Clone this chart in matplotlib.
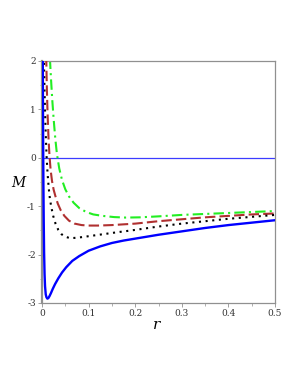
import matplotlib
matplotlib.use("Agg")
import matplotlib.pyplot as plt
from matplotlib.ticker import MultipleLocator

# Blue solid curve
r_blue = [0.0016, 0.0020, 0.0025, 0.0030, 0.0037, 0.0045, 0.0055, 0.0065, 0.0080, 0.0095,
          0.0115, 0.0135, 0.016, 0.019, 0.023, 0.028, 0.035, 0.043, 0.052, 0.065,
          0.080, 0.100, 0.125, 0.150, 0.175, 0.200, 0.250, 0.300, 0.350, 0.400, 0.450, 0.500]
M_blue = [2.2, 1.2, 0.3, -0.5, -1.3, -1.95, -2.4, -2.65, -2.82, -2.88,
          -2.91, -2.90, -2.86, -2.80, -2.71, -2.61, -2.49, -2.37, -2.26, -2.13,
          -2.03, -1.92, -1.83, -1.76, -1.71, -1.67, -1.59, -1.52, -1.45, -1.39, -1.34, -1.29]

# Black dotted curve
r_black = [0.0040, 0.0055, 0.0070, 0.0085, 0.0100, 0.0120, 0.0145, 0.0170, 0.0200, 0.0240,
           0.0290, 0.0350, 0.0420, 0.0500, 0.0600, 0.0700, 0.0850, 0.100, 0.130, 0.160,
           0.200, 0.250, 0.300, 0.350, 0.400, 0.450, 0.500]
M_black = [2.1, 1.35, 0.8, 0.35, 0.0, -0.33, -0.63, -0.85, -1.02, -1.20,
           -1.36, -1.49, -1.58, -1.63, -1.66, -1.655, -1.64, -1.62, -1.58, -1.54,
           -1.49, -1.42, -1.36, -1.31, -1.26, -1.22, -1.18]

# Red dashed curve
r_red = [0.0090, 0.0105, 0.0120, 0.0140, 0.0160, 0.0185, 0.0215, 0.0250, 0.0290, 0.0340,
         0.0400, 0.0480, 0.0580, 0.0700, 0.0850, 0.100, 0.120, 0.150, 0.200, 0.250,
         0.300, 0.350, 0.400, 0.450, 0.500]
M_red = [2.1, 1.4, 0.9, 0.4, 0.05, -0.25, -0.48, -0.66, -0.80, -0.95,
         -1.08, -1.20, -1.30, -1.36, -1.39, -1.40, -1.40, -1.39, -1.36, -1.31,
         -1.27, -1.23, -1.20, -1.17, -1.15]

# Green dash-dot curve
r_green = [0.0170, 0.0195, 0.0220, 0.0250, 0.0285, 0.0320, 0.0370, 0.0430, 0.0500, 0.0580,
           0.0680, 0.0800, 0.0950, 0.1100, 0.1300, 0.1550, 0.1800, 0.2100, 0.2500, 0.3000,
           0.3500, 0.4000, 0.4500, 0.5000]
M_green = [2.05, 1.6, 1.2, 0.8, 0.4, 0.08, -0.22, -0.46, -0.65, -0.80,
           -0.93, -1.04, -1.12, -1.17, -1.20, -1.225, -1.235, -1.23, -1.21, -1.18,
           -1.16, -1.14, -1.12, -1.10]

x_ticks = [0, 0.1, 0.2, 0.3, 0.4, 0.5]
x_tick_labels = ["0", "0.1", "0.2", "0.3", "0.4", "0.5"]
y_ticks = [-3, -2, -1, 0, 1, 2]
y_tick_labels = ["-3", "-2", "-1", "0", "1", "2"]

fig = plt.figure(figsize=(3.0, 3.88), dpi=100)
ax = fig.add_axes([42 / 300, 1 - 303 / 388, (275 - 42) / 300, (303 - 61) / 388])

ax.axhline(0, color="#3c3cff", lw=0.9, zorder=1)
ax.plot(r_green, M_green, color="#22ee22", lw=1.5, ls=(0, (5, 2, 1, 2)), zorder=2)
ax.plot(r_red, M_red, color="#b03030", lw=1.5, ls=(0, (5, 2)), zorder=3)
ax.plot(r_black, M_black, color="black", lw=1.5, ls=(0, (1, 2.2)), zorder=4)
ax.plot(r_blue, M_blue, color="#0000ff", lw=1.7, zorder=5)

ax.set_xlim(0, 0.5)
ax.set_ylim(-3, 2)
ax.set_xticks(x_ticks)
ax.set_xticklabels(x_tick_labels)
ax.set_yticks(y_ticks)
ax.set_yticklabels(y_tick_labels)
ax.xaxis.set_minor_locator(MultipleLocator(0.05))
ax.yaxis.set_minor_locator(MultipleLocator(0.5))

for s in ax.spines.values():
    s.set_color("#909090")
    s.set_linewidth(0.9)
ax.spines["left"].set_linewidth(1.6)

ax.tick_params(which="major", length=3, width=0.6, color="#909090",
               labelsize=6.5, labelcolor="#333333", pad=1.5)
ax.tick_params(which="minor", length=1.8, width=0.5, color="#909090")
for lab in ax.get_xticklabels() + ax.get_yticklabels():
    lab.set_family("DejaVu Serif")

fig.text(18 / 300, 1 - 183 / 388, "M", fontsize=10, style="italic",
         family="DejaVu Serif", ha="center", va="center")
fig.text(157 / 300, 1 - 325 / 388, "r", fontsize=11, style="italic",
         family="DejaVu Serif", ha="center", va="center")

fig.savefig("out.png", dpi=100, facecolor="white")
